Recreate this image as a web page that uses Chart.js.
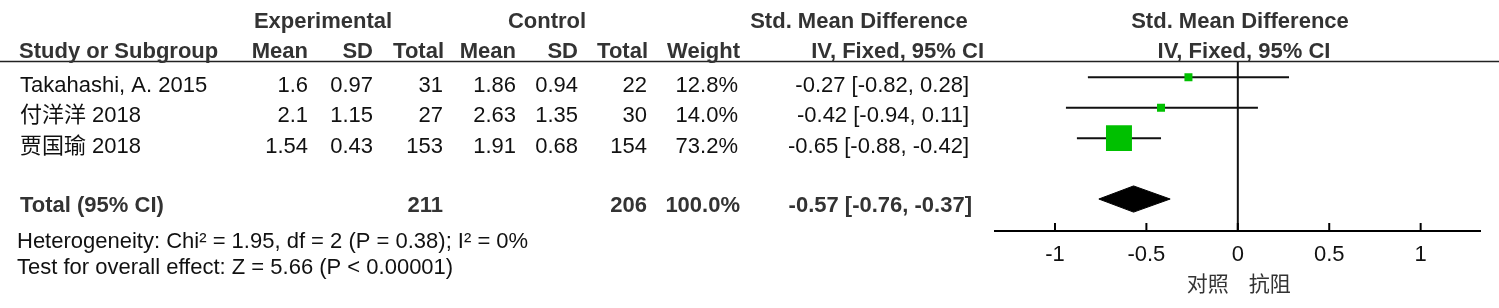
<!DOCTYPE html>
<html><head><meta charset="utf-8">
<script src="https://cdn.jsdelivr.net/npm/chart.js@4.4.0/dist/chart.umd.min.js"></script>
<style>html,body{margin:0;padding:0;background:#fff;}canvas{display:block;}</style>
</head><body>
<canvas id="c" width="1499" height="308"></canvas>
<script>
// ---------- data ----------
const studies = ['Takahashi, A. 2015', '付洋洋 2018', '贾国瑜 2018'];
const expMean = ['1.6', '2.1', '1.54'];
const expSD = ['0.97', '1.15', '0.43'];
const expN = [31, 27, 153];
const ctlMean = ['1.86', '2.63', '1.91'];
const ctlSD = ['0.94', '1.35', '0.68'];
const ctlN = [22, 30, 154];
const weights = [12.8, 14.0, 73.2];
const smd = [-0.27, -0.42, -0.65];
const ciLow = [-0.82, -0.94, -0.88];
const ciHigh = [0.28, 0.11, -0.42];
const totalLabel = 'Total (95% CI)';
const totalExpN = [211];
const totalCtlN = [206];
const totalWeight = [100.0];
const totalSmd = [-0.57];
const totalLow = [-0.76];
const totalHigh = [-0.37];
const heterogeneityText = 'Heterogeneity: Chi² = 1.95, df = 2 (P = 0.38); I² = 0%';
const overallText = 'Test for overall effect: Z = 5.66 (P < 0.00001)';
const xTicks = [-1, -0.5, 0, 0.5, 1];
const favours = ['对照', '抗阻'];

// ---------- layout / style ----------
const FONT = "'Liberation Sans', Arial, 'Noto Sans CJK SC', sans-serif";
const CJK = "'Noto Sans CJK SC', sans-serif";
const GREEN = '#00C000';
const rowOf = i => i + 1;      // study rows on y scale
const totalRow = 5;
const diamondHalf = 0.43;
const textOffset = 8.5;

const fmt2 = v => v.toFixed(2);
const ciText = (e, l, h) => fmt2(e) + ' [' + fmt2(l) + ', ' + fmt2(h) + ']';

const ciDatasets = studies.map((s, i) => ({
  type: 'line',
  data: [{x: ciLow[i], y: rowOf(i)}, {x: ciHigh[i], y: rowOf(i)}],
  borderColor: '#111', borderWidth: 2, pointRadius: 0, fill: false, order: 3
}));

const sqRadius = ctx => Math.max(8, weights[ctx.dataIndex] * 0.355) / (2 * Math.SQRT1_2);
const squares = {
  type: 'scatter',
  data: studies.map((s, i) => ({x: smd[i], y: rowOf(i)})),
  pointStyle: 'rect',
  pointRadius: sqRadius,
  pointHoverRadius: sqRadius,
  backgroundColor: GREEN, borderWidth: 0, order: 1
};

const diamond = {
  type: 'line',
  data: [
    {x: totalLow[0], y: totalRow},
    {x: totalSmd[0], y: totalRow - diamondHalf},
    {x: totalHigh[0], y: totalRow},
    {x: totalSmd[0], y: totalRow + diamondHalf},
    {x: totalLow[0], y: totalRow}
  ],
  borderColor: '#000', borderWidth: 1, backgroundColor: '#000',
  pointRadius: 0, fill: 'shape', tension: 0, order: 2
};

const tablePlugin = {
  id: 'table',
  afterDraw(chart) {
    const ctx = chart.ctx;
    const xs = chart.scales.x, ys = chart.scales.y;
    const area = chart.chartArea;
    ctx.save();
    // header rule
    ctx.strokeStyle = '#222'; ctx.lineWidth = 1.5;
    ctx.beginPath(); ctx.moveTo(0, 61.5); ctx.lineTo(chart.width, 61.5); ctx.stroke();
    // zero line
    const x0 = xs.getPixelForValue(0);
    ctx.strokeStyle = '#111'; ctx.lineWidth = 2;
    ctx.beginPath(); ctx.moveTo(x0, area.top); ctx.lineTo(x0, area.bottom); ctx.stroke();
    // upward ticks
    ctx.strokeStyle = '#000';
    xTicks.forEach(v => {
      const px = xs.getPixelForValue(v);
      ctx.beginPath(); ctx.moveTo(px, area.bottom); ctx.lineTo(px, area.bottom - 8); ctx.stroke();
    });

    const txt = (s, x, y, align, bold, color) => {
      ctx.font = (bold ? 'bold ' : '') + '22px ' + FONT;
      ctx.textAlign = align; ctx.textBaseline = 'middle';
      ctx.fillStyle = color || '#111';
      ctx.fillText(s, x, y);
    };
    const H = '#333';
    // headers
    txt('Experimental', 323, 22, 'center', true, H);
    txt('Control', 547, 22, 'center', true, H);
    txt('Std. Mean Difference', 859, 22, 'center', true, H);
    txt('Std. Mean Difference', 1240, 22, 'center', true, H);
    txt('Study or Subgroup', 19, 52, 'left', true, H);
    txt('Mean', 308, 52, 'right', true, H);
    txt('SD', 373, 52, 'right', true, H);
    txt('Total', 444, 52, 'right', true, H);
    txt('Mean', 516, 52, 'right', true, H);
    txt('SD', 578, 52, 'right', true, H);
    txt('Total', 648, 52, 'right', true, H);
    txt('Weight', 740, 52, 'right', true, H);
    txt('IV, Fixed, 95% CI', 984, 52, 'right', true, H);
    txt('IV, Fixed, 95% CI', 1244, 52, 'center', true, H);
    // studies
    studies.forEach((s, i) => {
      const y = ys.getPixelForValue(rowOf(i)) + textOffset;
      txt(s, 20, y, 'left');
      txt(expMean[i], 308, y, 'right');
      txt(expSD[i], 373, y, 'right');
      txt(String(expN[i]), 443, y, 'right');
      txt(ctlMean[i], 516, y, 'right');
      txt(ctlSD[i], 578, y, 'right');
      txt(String(ctlN[i]), 647, y, 'right');
      txt(weights[i].toFixed(1) + '%', 738, y, 'right');
      txt(ciText(smd[i], ciLow[i], ciHigh[i]), 969, y, 'right');
    });
    // total
    const yt = ys.getPixelForValue(totalRow) + 6.5;
    txt(totalLabel, 20, yt, 'left', true, H);
    txt(String(totalExpN[0]), 443, yt, 'right', true, H);
    txt(String(totalCtlN[0]), 647, yt, 'right', true, H);
    txt(totalWeight[0].toFixed(1) + '%', 740, yt, 'right', true, H);
    txt(ciText(totalSmd[0], totalLow[0], totalHigh[0]), 972, yt, 'right', true, H);
    txt(heterogeneityText, 17, 242, 'left');
    txt(overallText, 17, 268, 'left');
    // favours labels
    ctx.font = '21px ' + CJK;
    ctx.fillStyle = '#333'; ctx.textBaseline = 'middle';
    ctx.textAlign = 'right'; ctx.fillText(favours[0], x0 - 9, 283);
    ctx.textAlign = 'left'; ctx.fillText(favours[1], x0 + 11, 283);
    ctx.restore();
  }
};

new Chart(document.getElementById('c'), {
  type: 'scatter',
  data: { datasets: [...ciDatasets, diamond, squares] },
  options: {
    responsive: false,
    devicePixelRatio: 1,
    animation: false,
    events: [],
    layout: { padding: { left: 995, right: 15, top: 62, bottom: 0 } },
    plugins: { legend: { display: false }, tooltip: { enabled: false } },
    scales: {
      x: {
        type: 'linear', min: -1.328, max: 1.328,
        afterBuildTicks: s => { s.ticks = xTicks.map(v => ({value: v})); },
        afterFit: s => { s.height = 77; },
        grid: { display: false, drawTicks: false },
        border: { display: true, color: '#000', width: 2 },
        ticks: { padding: 11, color: '#111', font: { family: FONT, size: 22 },
                 callback: v => String(v) }
      },
      y: {
        type: 'linear', reverse: true, min: 0.5, max: 6.05, display: false
      }
    }
  },
  plugins: [tablePlugin]
});
</script>
</body></html>
